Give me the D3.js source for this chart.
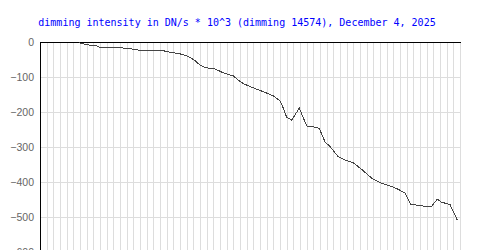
<!DOCTYPE html>
<html><head><meta charset="utf-8">
<script src="https://cdn.jsdelivr.net/npm/d3@7"></script>
<style>body{margin:0;background:#fff}svg{display:block}</style>
</head><body>
<script>
const title = "dimming intensity in DN/s * 10^3 (dimming 14574), December 4, 2025";
const yTicks = [0, -100, -200, -300, -400, -500, -600];
const gridCount = 63;
const times = [5.85,6.6,7.5,8.5,9.0,11.75,12.75,13.75,14.75,18.5,19.5,20.5,21.5,22.5,23.25,24,24.75,26.25,27.5,29,30,30.75,32,33.5,35,36,36.5,37,37.75,38.9,40,41,41.9,42.75,43.5,44.75,46,47,48.25,49.75,51,52.5,53.75,54.75,55.6,56.5,58.25,58.75,59.6,60.25,61.5,62,62.6];
const values = [-2,-6,-9,-11,-16,-15,-18,-20,-23,-25,-29,-32,-36,-44,-53,-66,-73,-77,-88,-97,-113,-121,-131,-142,-154,-168,-189,-215,-223,-189,-240,-242,-247,-285,-299,-328,-339,-345,-364,-389,-402,-411,-421,-432,-463,-466,-471,-469,-449,-458,-464,-485,-509];

const W = 500, H = 250;
const svg = d3.select("body").append("svg").attr("width", W).attr("height", H);
const x = d3.scaleLinear().domain([0, gridCount]).range([40, 460]);
const y = d3.scaleLinear().domain([0, -600]).range([42, 252]);
const px = v => Math.round(v) + 0.5;

svg.append("text").attr("x", 237).attr("y", 26).attr("text-anchor", "middle")
  .attr("font-family", "DejaVu Sans Mono, monospace").attr("font-size", 10)
  .attr("fill", "#0000ff").text(title);

const g = svg.append("g");
g.selectAll("line.v").data(d3.range(1, gridCount + 1)).join("line")
  .attr("x1", d => px(x(d))).attr("x2", d => px(x(d)))
  .attr("y1", 42).attr("y2", H).attr("stroke", "#dddddd");
g.selectAll("line.h").data(yTicks.slice(1)).join("line")
  .attr("x1", 40).attr("x2", 460)
  .attr("y1", d => px(y(d))).attr("y2", d => px(y(d))).attr("stroke", "#dddddd");

g.append("line").attr("x1", 40).attr("x2", 461).attr("y1", 42.5).attr("y2", 42.5).attr("stroke", "#000");
g.append("line").attr("x1", 40.5).attr("x2", 40.5).attr("y1", 42).attr("y2", H).attr("stroke", "#000");

const fmt = d3.format("d");
g.selectAll("text.yl").data(yTicks).join("text")
  .attr("x", 34).attr("y", d => y(d)).attr("dy", "0.35em").attr("text-anchor", "end")
  .attr("font-family", "Liberation Sans, Arial, sans-serif").attr("font-size", 10.5)
  .attr("fill", "#666").text(d => fmt(d));

const pts = times.map((t, i) => [t, values[i]]);
svg.append("path").datum(pts)
  .attr("d", d3.line().x(d => x(d[0])).y(d => y(d[1])))
  .attr("fill", "none").attr("stroke", "#444").attr("stroke-width", 1)
  .attr("shape-rendering", "crispEdges");
</script>
</body></html>
